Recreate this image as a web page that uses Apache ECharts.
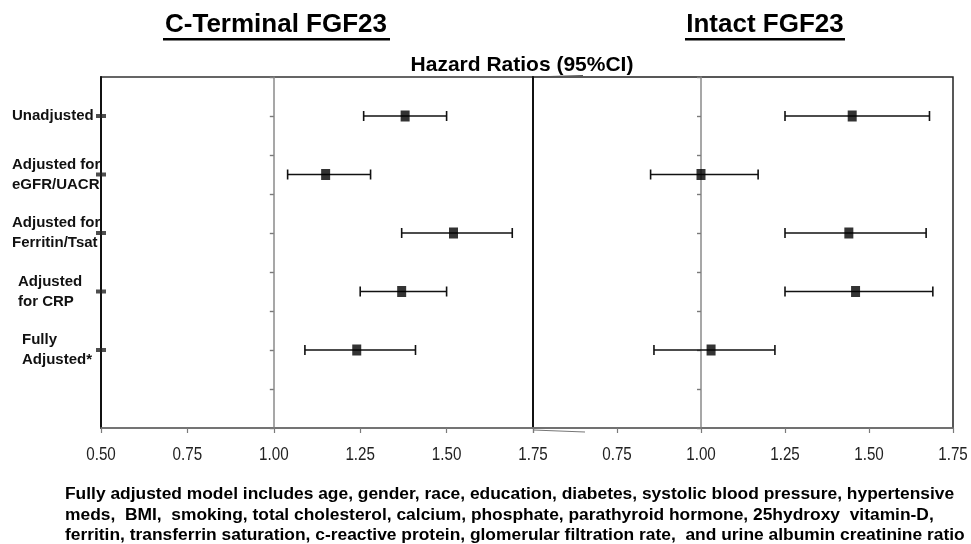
<!DOCTYPE html>
<html><head><meta charset="utf-8">
<script src="https://cdn.jsdelivr.net/npm/echarts@6/dist/echarts.min.js"></script>
<style>html,body{margin:0;padding:0;background:#fff}#c{width:971px;height:544px}</style>
</head><body><div id="c"></div>
<script>
// ---- data ----
const models = ['Unadjusted', 'Adjusted for\neGFR/UACR', 'Adjusted for\nFerritin/Tsat', 'Adjusted\nfor CRP', 'Fully\nAdjusted*'];
const rowPos = [8, 6.5, 5, 3.5, 2];
const ctHR   = [1.38, 1.15, 1.52, 1.37, 1.24];
const ctLow  = [1.26, 1.04, 1.37, 1.25, 1.09];
const ctHigh = [1.50, 1.28, 1.69, 1.50, 1.41];
const inHR   = [1.45, 1.00, 1.44, 1.46, 1.03];
const inLow  = [1.25, 0.85, 1.25, 1.25, 0.86];
const inHigh = [1.68, 1.17, 1.67, 1.69, 1.22];
const leftTicks  = [0.50, 0.75, 1.00, 1.25, 1.50, 1.75];
const rightTicks = [0.75, 1.00, 1.25, 1.50, 1.75];
const xMin = 0.5, xMax = 1.75, xStep = 0.25, refLine = 1.0;
const yMin = 0, yMax = 9;
const panelTitles = ['C-Terminal FGF23', 'Intact FGF23'];
const axisTitle = 'Hazard Ratios (95%CI)';
const footnote = [
  'Fully adjusted model includes age, gender, race, education, diabetes, systolic blood pressure, hypertensive',
  'meds,  BMI,  smoking, total cholesterol, calcium, phosphate, parathyroid hormone, 25hydroxy  vitamin-D,',
  'ferritin, transferrin saturation, c-reactive protein, glomerular filtration rate,  and urine albumin creatinine ratio'
];

// ---- layout ----
const G0 = {left: 101, top: 77, width: 432, height: 351};
const G1 = {left: 533, top: 77, width: 420, height: 351};
const FONT = '"Liberation Sans", Arial, sans-serif';

const chart = echarts.init(document.getElementById('c'), null, {renderer: 'canvas'});

function errItem(params, api) {
  const y = api.value(2);
  const a = api.coord([api.value(0), y]);
  const b = api.coord([api.value(1), y]);
  const cap = 5;
  const st = {stroke: '#111', lineWidth: 1.6};
  return {type: 'group', children: [
    {type: 'line', shape: {x1: a[0], y1: a[1], x2: b[0], y2: b[1]}, style: st},
    {type: 'line', shape: {x1: a[0], y1: a[1] - cap, x2: a[0], y2: a[1] + cap}, style: st},
    {type: 'line', shape: {x1: b[0], y1: b[1] - cap, x2: b[0], y2: b[1] + cap}, style: st}
  ]};
}

const rich = {};
const indents = [0, 0, 0, 6, 10];
indents.forEach((p, i) => { rich['r' + i] = {fontFamily: FONT, fontWeight: 'bold', fontSize: 15, color: '#111', lineHeight: 20, padding: [0, 0, 0, p]}; });

function xAxisFor(g) {
  return {
    gridIndex: g, type: 'value', min: xMin, max: xMax, interval: xStep,
    axisLine: {show: true, onZero: false, lineStyle: {color: '#7a7a7a', width: 1.5}},
    axisTick: {show: true, length: 5, lineStyle: {color: '#7a7a7a', width: 1.2}},
    axisLabel: {show: false},
    splitLine: {show: false}
  };
}
function refAxis(g, grid) {
  return {
    gridIndex: g, type: 'value', position: 'left', min: yMin, max: yMax, interval: 1,
    offset: -(refLine - xMin) / (xMax - xMin) * grid.width,
    axisLine: {show: true, onZero: false, lineStyle: {color: '#8a8a8a', width: 1.5}},
    axisTick: {show: true, length: 4, lineStyle: {color: '#7a7a7a', width: 1.4}},
    axisLabel: {show: false}, splitLine: {show: false}
  };
}

const graphics = [
  {type: 'text', x: 276, y: 25, style: {text: panelTitles[0], font: 'bold 26px ' + FONT, fill: '#000', align: 'center', verticalAlign: 'middle'}},
  {type: 'rect', shape: {x: 163, y: 38, width: 227, height: 2.5}, style: {fill: '#000'}},
  {type: 'text', x: 765, y: 25, style: {text: panelTitles[1], font: 'bold 26px ' + FONT, fill: '#000', align: 'center', verticalAlign: 'middle'}},
  {type: 'rect', shape: {x: 685, y: 38, width: 160, height: 2.5}, style: {fill: '#000'}},
  {type: 'text', x: 522, y: 65, style: {text: axisTitle, font: 'bold 21px ' + FONT, fill: '#000', align: 'center', verticalAlign: 'middle'}},
  {type: 'polyline', shape: {points: [[533, 430], [585, 432]]}, style: {stroke: '#777', lineWidth: 1.2, fill: null}},
  {type: 'polyline', shape: {points: [[533, 77], [583, 75.5]]}, style: {stroke: '#555', lineWidth: 1.2, fill: null}},
  {type: 'text', x: 65, y: 484, style: {text: footnote.join('\n'), font: 'bold 17.4px ' + FONT, lineHeight: 20.5, fill: '#000', align: 'left', verticalAlign: 'top'}}
];

const option = {
  backgroundColor: '#fff',
  animation: false,
  grid: [
    Object.assign({show: true, borderColor: '#333', borderWidth: 1.5, containLabel: false}, G0),
    Object.assign({show: true, borderColor: '#222', borderWidth: 1.5, containLabel: false}, G1)
  ],
  xAxis: [xAxisFor(0), xAxisFor(1)],
  yAxis: [
    {gridIndex: 0, type: 'value', position: 'left', min: yMin, max: yMax, interval: 1,
     axisLine: {show: true, onZero: false, lineStyle: {color: '#111', width: 2}},
     axisTick: {show: false}, splitLine: {show: false},
     axisLabel: {show: true, customValues: rowPos, align: 'left', margin: 89,
       formatter: v => {
         const i = rowPos.indexOf(v);
         return models[i].split('\n').map(s => '{r' + i + '|' + s + '}').join('\n');
       }, rich: rich}},
    refAxis(0, G0),
    {gridIndex: 1, type: 'value', position: 'left', min: yMin, max: yMax, interval: 1,
     axisLine: {show: true, onZero: false, lineStyle: {color: '#111', width: 2}},
     axisTick: {show: false}, axisLabel: {show: false}, splitLine: {show: false}},
    refAxis(1, G1)
  ],
  series: [
    {type: 'scatter', xAxisIndex: 0, yAxisIndex: 0, symbol: 'rect', symbolSize: [10, 4], clip: false,
     itemStyle: {color: '#222'}, data: rowPos.map(y => [xMin, y]), z: 5},
    {type: 'custom', xAxisIndex: 0, yAxisIndex: 0, renderItem: errItem,
     data: rowPos.map((y, i) => [ctLow[i], ctHigh[i], y]), z: 3},
    {type: 'scatter', xAxisIndex: 0, yAxisIndex: 0, symbol: 'rect', symbolSize: [9, 11],
     itemStyle: {color: '#000'}, data: rowPos.map((y, i) => [ctHR[i], y]), z: 4},
    {type: 'custom', xAxisIndex: 1, yAxisIndex: 2, renderItem: errItem,
     data: rowPos.map((y, i) => [inLow[i], inHigh[i], y]), z: 3},
    {type: 'scatter', xAxisIndex: 1, yAxisIndex: 2, symbol: 'rect', symbolSize: [9, 11],
     itemStyle: {color: '#000'}, data: rowPos.map((y, i) => [inHR[i], y]), z: 4}
  ],
  graphic: graphics
};
chart.setOption(option);

// x tick labels: narrow look via horizontally scaled text placed through the axis scale
function tickLabels(gridIndex, ticks) {
  return ticks.map(v => {
    const p = chart.convertToPixel({gridIndex: gridIndex}, [v, yMin]);
    return {type: 'text', x: p[0], y: p[1] + 27, scaleX: 0.8,
      style: {text: v.toFixed(2), font: '19px ' + FONT, fill: '#222', align: 'center', verticalAlign: 'middle'}};
  });
}
chart.setOption({graphic: graphics.concat(tickLabels(0, leftTicks), tickLabels(1, rightTicks))});
</script>
</body></html>
